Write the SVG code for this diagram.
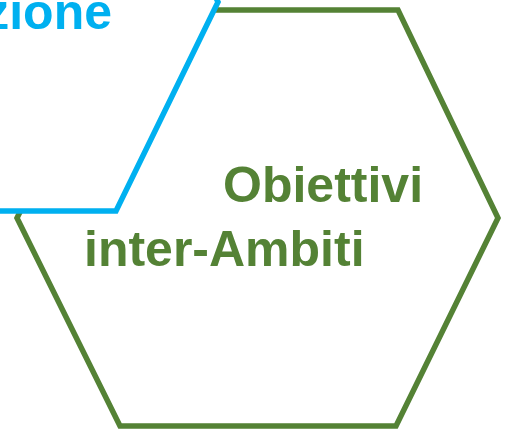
<svg xmlns="http://www.w3.org/2000/svg" width="508" height="430" viewBox="0 0 508 430">
<style>
.hex{stroke-width:5.5;stroke-linejoin:miter}
.t{font-family:"Liberation Sans",Arial,sans-serif;font-weight:bold;font-size:50px}
</style>
<rect width="508" height="430" fill="#FFFFFF"/>
<g id="node-obiettivi">
<polygon class="hex" points="17,218 119,10 398,10 498,218 396,426 120,426" fill="#FFFFFF" stroke="#548235"/>
<text class="t" fill="#548235" x="223" y="202">Obiettivi</text>
<text class="t" fill="#548235" x="84" y="266">inter-Ambiti</text>
</g>
<g id="node-blue">
<polygon class="hex" points="218,2 116,211 -160,211 -262,2 -160,-206 116,-206" fill="#FFFFFF" stroke="#00B0F0"/>
<text class="t" fill="#00B0F0" x="112" y="29" text-anchor="end">zione</text>
</g>
<g id="connectors"></g>
</svg>
